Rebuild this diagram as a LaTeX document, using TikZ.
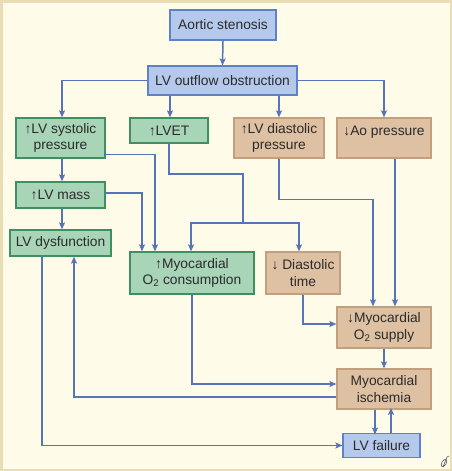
\documentclass[tikz,border=0pt]{standalone}
\usepackage{fontspec}
\setmainfont{Liberation Sans}
\usetikzlibrary{arrows.meta}
\definecolor{bgc}{HTML}{FEFCE8}
\definecolor{framec}{HTML}{E9DDB5}
\definecolor{bluefill}{HTML}{B4C9EB}
\definecolor{blueline}{HTML}{5F82C4}
\definecolor{greenfill}{HTML}{A8D4B8}
\definecolor{greenline}{HTML}{3F9060}
\definecolor{tanfill}{HTML}{DEC0A2}
\definecolor{tanline}{HTML}{C49F7E}
\definecolor{arrc}{HTML}{5874B8}
\definecolor{textc}{HTML}{2B2B2B}
\tikzset{
  box/.style={draw, line width=1.2pt, inner sep=0pt, align=center, text=textc,
    font=\fontsize{13.8}{16.5}\selectfont},
  bluebox/.style={box, fill=bluefill, draw=blueline},
  greenbox/.style={box, fill=greenfill, draw=greenline},
  tanbox/.style={box, fill=tanfill, draw=tanline},
  conn/.style={draw=arrc, line width=1.5pt},
  arr/.style={conn, -{Stealth[length=7pt,width=6pt,inset=1.5pt]}},
}
\begin{document}
\begin{tikzpicture}[x=1pt,y=-1pt]
\useasboundingbox (0,0) rectangle (452,471);
\fill[bgc] (0,0) rectangle (452,471);
\draw[framec, line width=5pt] (0,0) rectangle (452,471);

% nodes
\node[bluebox, minimum width=106pt, minimum height=30pt] (as) at (223,25) {Aortic stenosis};
\node[bluebox, minimum width=149pt, minimum height=29pt] (lvo) at (222.5,80.5) {LV outflow obstruction};
\node[greenbox, minimum width=89pt, minimum height=40pt] (sys) at (60.5,138) {↑LV systolic\\pressure};
\node[greenbox, minimum width=78pt, minimum height=25pt] (lvet) at (169,130.5) {↑LVET};
\node[tanbox, minimum width=90pt, minimum height=40pt] (dia) at (279,138) {↑LV diastolic\\pressure};
\node[tanbox, minimum width=94pt, minimum height=40pt, text depth=14pt] (ao) at (384,138) {↓Ao pressure};
\node[greenbox, minimum width=89pt, minimum height=26pt] (mass) at (60.5,195) {↑LV mass};
\node[greenbox, minimum width=101pt, minimum height=26pt] (dys) at (60.5,243) {LV dysfunction};
\node[greenbox, minimum width=124pt, minimum height=42pt] (cons) at (192,273) {↑Myocardial\\O\textsubscript{2} consumption};
\node[tanbox, minimum width=74pt, minimum height=42pt] (dt) at (303,273) {↓ Diastolic\\time};
\node[tanbox, minimum width=94pt, minimum height=41pt] (sup) at (384,327.5) {↓Myocardial\\O\textsubscript{2} supply};
\node[tanbox, minimum width=94pt, minimum height=40pt] (isc) at (384,389) {Myocardial\\ischemia};
\node[bluebox, minimum width=77pt, minimum height=24pt] (fail) at (381.5,445.5) {LV failure};

% junction points
\coordinate (j1) at (243,174);
\coordinate (j2) at (243,223);

% connectors
\draw[arr] (as.south) -- (lvo.north);
\draw[arr] (lvo.west) -| ([xshift=1.5pt]sys.north);
\draw[arr] ([xshift=1pt]lvet.north |- lvo.south) -- ([xshift=1pt]lvet.north);
\draw[arr] (dia.north |- lvo.south) -- (dia.north);
\draw[arr] (lvo.east) -| (ao.north);

\draw[arr] ([xshift=1.5pt]sys.south) -- ([xshift=1.5pt]mass.north);
\draw[arr] ([xshift=1.5pt]mass.south) -- ([xshift=1.5pt]dys.north);

\draw[arr] ([yshift=4pt]sys.south east) -| ([xshift=-37pt]cons.north);
\draw[arr] ([yshift=2pt]mass.east) -| ([xshift=-50pt]cons.north);

\draw[conn] (lvet.south) |- (j1) -- (j2);
\draw[arr] (j2) -| ([xshift=-1pt]cons.north);
\draw[arr] (j2) -| ([xshift=-4pt]dt.north);

\draw[arr] (dia.south) -- ++(0,41) -| ([xshift=-11pt]sup.north);
\draw[arr] ([xshift=11pt]ao.south) -- ([xshift=11pt]sup.north);
\draw[arr] (dt.south) |- ([yshift=3.5pt]sup.west);
\draw[arr] (sup.south) -- (isc.north);

\draw[arr] (cons.south) |- ([yshift=5pt]isc.west);
\draw[arr] ([yshift=-8pt]isc.west) -| ([xshift=13.5pt]dys.south);
\draw[arr] ([xshift=-18.5pt]dys.south) |- (fail.west);

\draw[arr] ([xshift=-9pt]isc.south) -- ++(0,25);
\draw[arr] ([xshift=9.5pt]fail.north) -- ++(0,-25);

% artist mark
\draw[textc!80, line width=0.6pt, rotate around={-30:(444,463)}] (444,463) ellipse (2.2pt and 4pt);
\draw[textc!80, line width=0.6pt] (443,467) -- (447,457) -- (449,456);
\end{tikzpicture}
\end{document}
